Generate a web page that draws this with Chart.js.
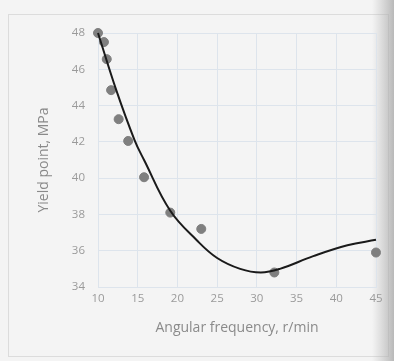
<!DOCTYPE html>
<html>
<head>
<meta charset="utf-8">
<script src="https://cdn.jsdelivr.net/npm/chart.js@4"></script>
<style>
    html, body { margin: 0; padding: 0; background: #f3f3f3; }
    #wrap { width: 394px; height: 361px; position: relative; }
</style>
</head>
<body>
<div id="wrap"><canvas id="chart" width="394" height="361"></canvas></div>
<script>
// measured points
const freq = [10, 10.75, 11.1, 11.65, 12.6, 13.8, 15.8, 19.1, 23.0, 32.2, 45];
const yieldPoint = [48, 47.5, 46.56, 44.85, 43.25, 42.05, 40.05, 38.1, 37.2, 34.8, 35.9];

// trend line
const trendFreq = [10, 12.3, 14.6, 15.8, 19.1, 22.5, 25.0, 27.9, 30.5, 32.9, 37.1, 41.4, 45];
const trendYield = [48, 44.85, 42.1, 41.0, 38.2, 36.55, 35.6, 35.0, 34.8, 35.0, 35.7, 36.3, 36.6];

const xTicks = [10, 15, 20, 25, 30, 35, 40, 45];
const yTicks = [34, 36, 38, 40, 42, 44, 46, 48];

function toPoints(xs, ys) {
    return xs.map(function (x, i) { return { x: x, y: ys[i] }; });
}

// paper background, border and the scan shadow on the right
const paper = {
    id: 'paper',
    beforeDraw(chart) {
        const ctx = chart.ctx;
        ctx.save();
        ctx.fillStyle = '#f4f4f4';
        ctx.fillRect(0, 0, chart.width, chart.height);
        ctx.strokeStyle = '#dcdcdc';
        ctx.lineWidth = 1;
        ctx.strokeRect(8.5, 14.5, 380, 342);
        const g = ctx.createLinearGradient(372, 0, 394, 0);
        g.addColorStop(0, 'rgba(180,180,180,0)');
        g.addColorStop(1, 'rgba(170,170,170,0.8)');
        ctx.fillStyle = g;
        ctx.fillRect(372, 0, 22, chart.height);
        ctx.restore();
    }
};

const font = "'Open Sans', 'DejaVu Sans', sans-serif";

new Chart(document.getElementById('chart').getContext('2d'), {
    type: 'scatter',
    data: {
        datasets: [{
            label: 'Trend',
            data: toPoints(trendFreq, trendYield),
            showLine: true,
            borderColor: '#1a1a1a',
            borderWidth: 2,
            pointRadius: 0,
            tension: 0.4,
            order: 1
        }, {
            label: 'Yield point',
            data: toPoints(freq, yieldPoint),
            showLine: false,
            backgroundColor: '#7f7f7f',
            borderColor: '#7f7f7f',
            pointRadius: 4.5,
            order: 2
        }]
    },
    options: {
        responsive: false,
        animation: false,
        clip: false,
        layout: { padding: { left: 34, right: 18, top: 33, bottom: 22 } },
        plugins: {
            legend: { display: false },
            tooltip: { enabled: false }
        },
        scales: {
            x: {
                type: 'linear',
                min: 10,
                max: 45,
                afterBuildTicks: function (scale) {
                    scale.ticks = xTicks.map(function (v) { return { value: v }; });
                },
                afterFit: function (scale) { scale.height = 52; },
                grid: { color: '#dde4ec', drawTicks: false },
                border: { color: '#dde4ec' },
                ticks: { color: '#9a9a9a', font: { family: font, size: 11.5 }, padding: 5 },
                title: {
                    display: true,
                    text: 'Angular frequency, r/min',
                    color: '#8a8a8a',
                    font: { family: font, size: 14 },
                    padding: { top: 6, bottom: 3 }
                }
            },
            y: {
                min: 34,
                max: 48,
                afterBuildTicks: function (scale) {
                    scale.ticks = yTicks.map(function (v) { return { value: v }; });
                },
                afterFit: function (scale) { scale.width = 64; },
                grid: { color: '#dde4ec', drawTicks: false },
                border: { color: '#dde4ec' },
                ticks: { color: '#9a9a9a', font: { family: font, size: 11.5 }, padding: 13 },
                title: {
                    display: true,
                    text: 'Yield point, MPa',
                    color: '#8a8a8a',
                    font: { family: font, size: 14 },
                    padding: { top: 2, bottom: 4 }
                }
            }
        }
    },
    plugins: [paper]
});
</script>
</body>
</html>
